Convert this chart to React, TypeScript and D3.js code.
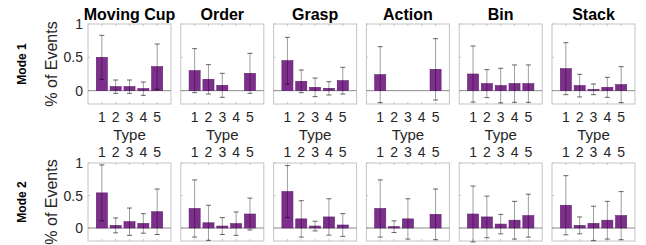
import React from "react"
import * as d3 from "d3"

const tasks = ["Moving Cup", "Order", "Grasp", "Action", "Bin", "Stack"]
const modes = ["Mode 1", "Mode 2"]
const types = [1, 2, 3, 4, 5]
const yTicks = [0, 0.5, 1]

// mean share of events per type, one row per task
const mode1Values = [
  [0.5, 0.06, 0.06, 0.03, 0.36],
  [0.3, 0.17, 0.08, 0, 0.26],
  [0.45, 0.14, 0.05, 0.035, 0.15],
  [0.24, 0, 0, 0, 0.32],
  [0.25, 0.106, 0.076, 0.106, 0.106],
  [0.33, 0.076, 0.02, 0.05, 0.09],
]
const mode1Errors = [
  [0.33, 0.1, 0.1, 0.1, 0.34],
  [0.33, 0.22, 0.18, 0, 0.3],
  [0.35, 0.17, 0.14, 0.1, 0.2],
  [0.42, 0, 0, 0, 0.46],
  [0.42, 0.21, 0.26, 0.28, 0.28],
  [0.39, 0.17, 0.08, 0.15, 0.27],
]
const mode2Values = [
  [0.54, 0.04, 0.097, 0.07, 0.25],
  [0.3, 0.08, 0.03, 0.067, 0.215],
  [0.56, 0.14, 0.03, 0.17, 0.046],
  [0.3, 0.02, 0.14, 0, 0.21],
  [0.215, 0.17, 0.06, 0.12, 0.19],
  [0.35, 0.04, 0.07, 0.12, 0.19],
]
const mode2Errors = [
  [0.43, 0.115, 0.21, 0.15, 0.35],
  [0.44, 0.27, 0.13, 0.18, 0.245],
  [0.4, 0.28, 0.075, 0.28, 0.175],
  [0.44, 0.09, 0.31, 0, 0.39],
  [0.43, 0.32, 0.15, 0.29, 0.33],
  [0.455, 0.13, 0.265, 0.29, 0.37],
]

const font = "'Liberation Sans', Arial, Helvetica, sans-serif"
const barColor = "#7E2F8E"

const panelX0 = 88, panelStep = 92.8, panelW = 83
const rows = [
  { top: 24, bottom: 104, values: mode1Values, errors: mode1Errors },
  { top: 163, bottom: 241, values: mode2Values, errors: mode2Errors },
]

function Panel({ left, row, ti }: any) {
  const x = d3.scaleLinear().domain([0, 6]).range([left, left + panelW])
  const y = d3.scaleLinear().domain([-0.2, 1]).range([row.bottom, row.top])
  const bw = (x(1) - x(0)) * 0.8
  const vals = row.values[ti]
  const errs = row.errors[ti]
  return (
    <g>
      <rect x={left} y={row.top} width={panelW} height={row.bottom - row.top} fill="white" stroke="#c4c4c4" strokeWidth={1} />
      {types.map(t => (
        <g key={"t" + t} stroke="#c4c4c4">
          <line x1={x(t)} x2={x(t)} y1={row.top} y2={row.top + 2} />
          <line x1={x(t)} x2={x(t)} y1={row.bottom} y2={row.bottom - 2} />
        </g>
      ))}
      {yTicks.map(v => (
        <line key={"y" + v} x1={left} x2={left + 2} y1={y(v)} y2={y(v)} stroke="#c4c4c4" />
      ))}
      <line x1={left} x2={left + panelW} y1={y(0)} y2={y(0)} stroke="#8a8a8a" strokeWidth={1} />
      {vals.map((v: number, i: number) => (
        <rect key={"b" + i} x={x(types[i]) - bw / 2} y={y(v)} width={bw} height={Math.max(0, y(0) - y(v))}
          fill={barColor} stroke="#5a1f66" strokeWidth={0.6} />
      ))}
      {vals.map((v: number, i: number) => {
        const e = errs[i]
        if (e === 0) return null
        const cx = x(types[i])
        return (
          <g key={"e" + i} stroke="#000" strokeOpacity={0.38} strokeWidth={1}>
            <line x1={cx} x2={cx} y1={y(v + e)} y2={y(v - e)} />
            <line x1={cx - 2.5} x2={cx + 2.5} y1={y(v + e)} y2={y(v + e)} strokeOpacity={0.6} />
            <line x1={cx - 2.5} x2={cx + 2.5} y1={y(v - e)} y2={y(v - e)} strokeOpacity={0.6} />
          </g>
        )
      })}
    </g>
  )
}

export default function App() {
  const W = 646, H = 245
  return (
    <svg width={W} height={H} style={{ position: "absolute", left: 0, top: 0 }} fontFamily={font}>
      <rect width={W} height={H} fill="white" />
      {tasks.map((t, ti) => (
        <text key={t} x={panelX0 + ti * panelStep + panelW / 2} y={20} textAnchor="middle"
          fontSize={16} fontWeight="bold" fill="#000">{t}</text>
      ))}
      {rows.map((row, ri) => {
        const y = d3.scaleLinear().domain([-0.2, 1]).range([row.bottom, row.top])
        const mid = (row.top + row.bottom) / 2
        return (
          <g key={"r" + ri}>
            <text transform={`translate(26,${mid}) rotate(-90)`} textAnchor="middle" fontSize={12}
              fontWeight="bold" fill="#000">{modes[ri]}</text>
            <text transform={`translate(57,${mid}) rotate(-90)`} textAnchor="middle" fontSize={16}
              fill="#262626">% of Events</text>
            {yTicks.map(v => (
              <text key={v} x={83} y={y(v) + 5} textAnchor="end" fontSize={14} fill="#262626">{v}</text>
            ))}
            {tasks.map((t, ti) => (
              <Panel key={t} left={panelX0 + ti * panelStep} row={row} ti={ti} />
            ))}
          </g>
        )
      })}
      {tasks.map((t, ti) => {
        const left = panelX0 + ti * panelStep
        const x = d3.scaleLinear().domain([0, 6]).range([left, left + panelW])
        return (
          <g key={"lab" + t} fontSize={14} fill="#262626" textAnchor="middle">
            {types.map(k => (
              <text key={"a" + k} x={x(k)} y={122}>{k}</text>
            ))}
            <text x={left + panelW / 2} y={140} fontSize={15}>Type</text>
            {types.map(k => (
              <text key={"b" + k} x={x(k)} y={157}>{k}</text>
            ))}
          </g>
        )
      })}
    </svg>
  )
}
